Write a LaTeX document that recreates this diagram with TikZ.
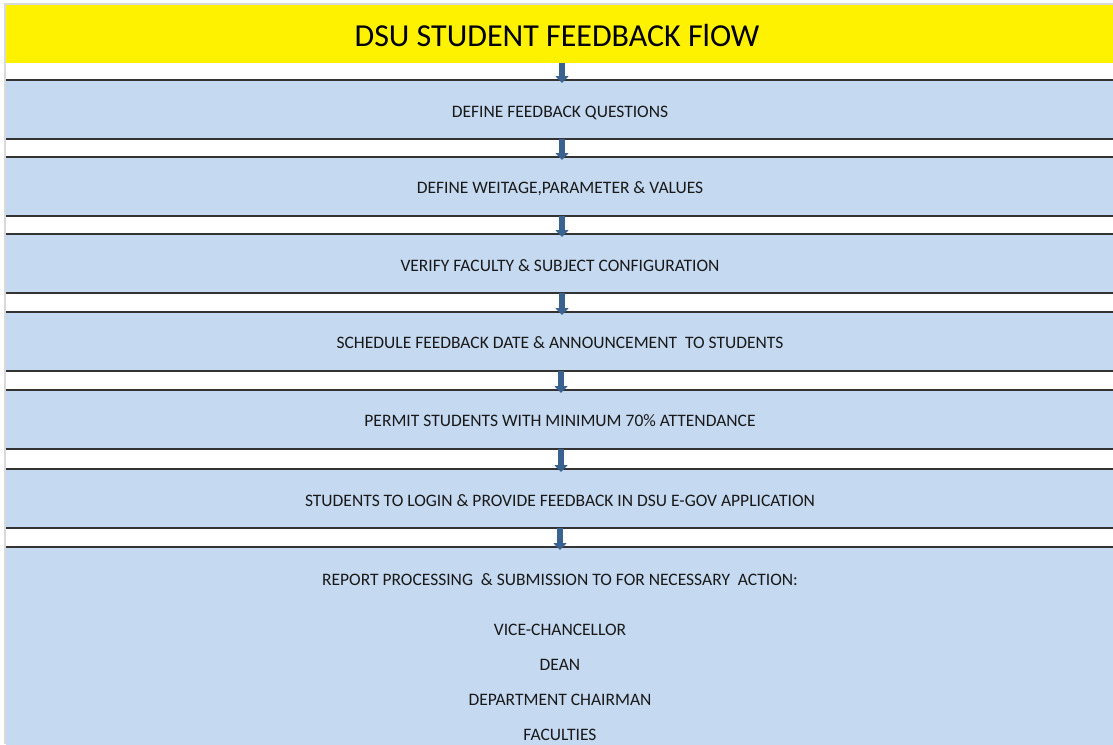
\documentclass[tikz,border=0pt]{standalone}
\usepackage{fontspec}
\setmainfont{Carlito}
\usetikzlibrary{arrows.meta}
\definecolor{boxblue}{HTML}{C5D9F1}
\definecolor{arrowblue}{HTML}{3A6291}
\definecolor{edgegray}{HTML}{D9D9D9}
\tikzset{
  stepbox/.style={anchor=north west, fill=boxblue, draw=none, minimum width=1107pt, inner sep=0pt, outer sep=0pt},
  steptext/.style={font=\fontsize{17.5}{21}\selectfont, text=black!90, inner sep=0pt, anchor=base},
  edgeline/.style={draw=black!80, line width=1.6pt},
  flowarrow/.style={draw=arrowblue, line width=6pt, -{Triangle[width=13pt,length=7pt]}, shorten >=-3pt}
}
\begin{document}
\begin{tikzpicture}[x=1pt,y=-1pt]
\useasboundingbox (0,0) rectangle (1113,744);
\fill[white] (0,0) rectangle (1113,744);
% title
\node[stepbox, fill=yellow, minimum height=58pt] (title) at (6,5) {};
\node[font=\fontsize{32}{38}\selectfont, inner sep=0pt, anchor=base] (titletext) at (557,46) {DSU STUDENT FEEDBACK FlOW};
% boxes
\node[stepbox, minimum height=59pt] (b1) at (6,80) {};
\node[stepbox, minimum height=59pt] (b2) at (6,157) {};
\node[stepbox, minimum height=59pt] (b3) at (6,234) {};
\node[stepbox, minimum height=59pt] (b4) at (6,312) {};
\node[stepbox, minimum height=59pt] (b5) at (6,390) {};
\node[stepbox, minimum height=59pt] (b6) at (6,469) {};
\node[stepbox, minimum height=200pt] (b7) at (6,547) {};
\foreach \b in {b1,b2,b3,b4,b5,b6}{
  \draw[edgeline] (\b.north west) -- (\b.north east);
  \draw[edgeline] (\b.south west) -- (\b.south east);
}
\draw[edgeline] (b7.north west) -- (b7.north east);
% texts (baselines)
\node[steptext] (t1) at (560,117) {DEFINE FEEDBACK QUESTIONS};
\node[steptext] (t2) at (560,193) {DEFINE WEITAGE,PARAMETER \& VALUES};
\node[steptext] (t3) at (560,271) {VERIFY FACULTY \& SUBJECT CONFIGURATION};
\node[steptext] (t4) at (560,348) {SCHEDULE FEEDBACK DATE \& ANNOUNCEMENT\ \ TO STUDENTS};
\node[steptext] (t5) at (560,426) {PERMIT STUDENTS WITH MINIMUM 70\% ATTENDANCE};
\node[steptext] (t6) at (560,506) {STUDENTS TO LOGIN \& PROVIDE FEEDBACK IN DSU E-GOV APPLICATION};
\node[steptext] (t7) at (560,585) {REPORT PROCESSING\ \ \& SUBMISSION TO FOR NECESSARY\ \ ACTION:};
\node[steptext] (t8) at (560,635) {VICE-CHANCELLOR};
\node[steptext] (t9) at (560,670) {DEAN};
\node[steptext] (t10) at (560,705) {DEPARTMENT CHAIRMAN};
\node[steptext] (t11) at (560,740) {FACULTIES};
% arrows
\draw[flowarrow] (title.south -| 562,0) -- (b1.north -| 562,0);
\draw[flowarrow] (b1.south -| 562,0) -- (b2.north -| 562,0);
\draw[flowarrow] (b2.south -| 562,0) -- (b3.north -| 562,0);
\draw[flowarrow] (b3.south -| 562,0) -- (b4.north -| 562,0);
\draw[flowarrow] (b4.south -| 561,0) -- (b5.north -| 561,0);
\draw[flowarrow] (b5.south -| 561,0) -- (b6.north -| 561,0);
\draw[flowarrow] (b6.south -| 560,0) -- (b7.north -| 560,0);
% page edges
\draw[edgegray, line width=1.5pt] (5,744) -- (5,4) -- (1113,4);
\end{tikzpicture}
\end{document}
